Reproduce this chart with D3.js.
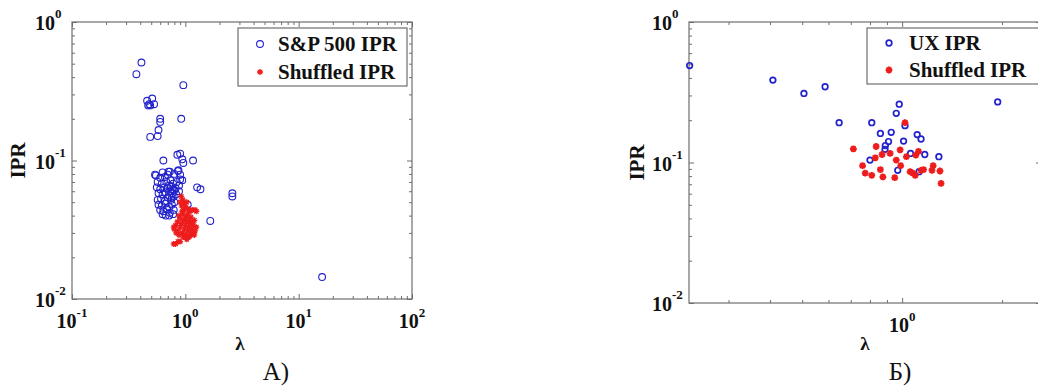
<!DOCTYPE html>
<html><head><meta charset="utf-8">
<script src="https://cdn.jsdelivr.net/npm/d3@7"></script>
<style>html,body{margin:0;padding:0;background:#fff;}svg{display:block;}</style>
</head><body>
<script>
// ---------- DATA ----------
const sp500IPR = [
  [0.37,0.42],[0.41,0.51],[0.96,0.35],
  [0.46,0.27],[0.48,0.255],[0.49,0.25],[0.51,0.28],[0.53,0.255],[0.47,0.25],
  [0.60,0.20],[0.60,0.19],[0.92,0.20],
  [0.58,0.166],[0.57,0.15],[0.49,0.148],
  [0.64,0.10],[0.85,0.11],[0.90,0.112],[0.94,0.102],[0.96,0.096],[1.17,0.10],
  [0.54,0.079],[0.71,0.083],[0.87,0.085],[0.90,0.079],[0.94,0.072],
  [1.27,0.064],[1.36,0.062],[2.6,0.058],[2.6,0.055],[1.66,0.0366],[16.1,0.0144],
  [0.55,0.078],[0.60,0.075],[0.63,0.082],[0.66,0.076],[0.70,0.079],[0.73,0.083],[0.80,0.080],[0.86,0.084],[0.90,0.073],
  [0.57,0.070],[0.62,0.068],[0.68,0.070],[0.74,0.072],[0.78,0.068],[0.84,0.070],
  [0.56,0.064],[0.60,0.062],[0.65,0.064],[0.70,0.063],[0.75,0.065],[0.80,0.061],[0.88,0.066],
  [0.58,0.058],[0.63,0.057],[0.67,0.059],[0.72,0.056],[0.77,0.058],[0.83,0.057],[0.88,0.060],
  [0.57,0.052],[0.61,0.053],[0.66,0.051],[0.70,0.054],[0.75,0.052],[0.80,0.050],
  [0.58,0.048],[0.62,0.047],[0.67,0.049],[0.72,0.046],[0.76,0.048],
  [0.60,0.044],[0.64,0.043],[0.69,0.045],[0.73,0.042],[0.79,0.044],
  [0.63,0.041],[0.67,0.040],[0.72,0.040],[0.78,0.041],[1.05,0.048],
  [0.74,0.060],[0.77,0.062],[0.72,0.066],[0.79,0.055],[0.82,0.063],[0.76,0.054]
];
const shuffledA = [
  [0.92,0.055],[0.95,0.052],[0.90,0.050],[0.98,0.049],[0.93,0.047],[1.00,0.046],[1.05,0.045],[1.15,0.044],[1.22,0.044],[1.25,0.043],[1.10,0.043],
  [0.82,0.034],[0.80,0.032],[0.85,0.036],[0.88,0.040],[0.90,0.038],[0.92,0.035],[0.95,0.041],[0.97,0.037],[1.00,0.039],[1.02,0.036],[1.05,0.041],
  [1.08,0.038],[1.10,0.035],[1.12,0.039],[1.15,0.036],[1.18,0.034],[1.20,0.037],[0.86,0.031],[0.90,0.033],[0.94,0.030],[0.98,0.032],[1.01,0.029],
  [1.04,0.031],[1.07,0.033],[1.11,0.030],[1.14,0.032],[1.17,0.030],[1.22,0.031],[1.25,0.033],[1.00,0.034],[0.96,0.028],[1.03,0.027],[1.08,0.028],
  [1.13,0.029],[1.20,0.029],[0.88,0.029],[0.83,0.030],[0.79,0.033],[1.06,0.036],[0.94,0.043],[0.98,0.044],[1.03,0.050],
  [0.79,0.025],[0.82,0.025],[0.86,0.026],[0.90,0.026]
];
const uxIPR = [
  [0.229,0.49],[0.408,0.386],[0.506,0.31],[0.586,0.346],[0.646,0.192],[0.81,0.192],[0.86,0.161],[0.927,0.164],
  [0.98,0.26],[0.96,0.224],[1.02,0.183],[1.01,0.142],[1.11,0.158],[1.14,0.147],[0.91,0.141],[0.89,0.132],[0.888,0.124],
  [0.80,0.104],[1.06,0.116],[1.17,0.114],[1.29,0.11],[0.97,0.088],[1.125,0.086],[1.94,0.27]
];
const shuffledB = [
  [0.713,0.125],[0.835,0.13],[1.02,0.192],[0.76,0.095],[0.774,0.084],[0.81,0.081],[0.83,0.108],[0.87,0.114],[0.92,0.116],
  [0.86,0.089],[0.875,0.079],[0.95,0.078],[0.96,0.104],[0.986,0.123],[0.99,0.095],[1.03,0.11],[1.10,0.113],[1.12,0.12],
  [1.057,0.086],[1.077,0.084],[1.14,0.088],[1.16,0.089],[1.24,0.095],[1.23,0.088],[1.30,0.087],[1.31,0.071],[1.095,0.081]
];
const yTickLabels = [{v:1, sup:"0"},{v:0.1, sup:"-1"},{v:0.01, sup:"-2"}];
const xTickLabelsA = [{v:0.1, sup:"-1"},{v:1, sup:"0"},{v:10, sup:"1"},{v:100, sup:"2"}];
const xTickLabelsB = [{v:1, sup:"0"}];
const legendA = ["S&P 500 IPR","Shuffled IPR"];
const legendB = ["UX IPR","Shuffled IPR"];

// ---------- DRAW ----------
const W = 1038, H = 391;
const serif = "'Liberation Serif','Times New Roman',serif";
const frameColor = "#6e6e6e";
const blue = "#2222cc", red = "#ee1c1c";
const svg = d3.select("body").append("svg").attr("width", W).attr("height", H);

function starPath(s){ const d = s*0.72;
  return `M${-s},0L${s},0M0,${-s}L0,${s}M${-d},${-d}L${d},${d}M${-d},${d}L${d},${-d}`; }

function logTicks(domain){
  const major = [], minor = [];
  const lo = Math.floor(Math.log10(domain[0])), hi = Math.ceil(Math.log10(domain[1]));
  for (let e = lo; e <= hi; e++){
    const b = Math.pow(10, e);
    if (b >= domain[0]*0.9999 && b <= domain[1]*1.0001) major.push(b);
    for (let k = 2; k <= 9; k++){ const v = k*b; if (v >= domain[0] && v <= domain[1]) minor.push(v); }
  }
  return {major, minor};
}

function panel(cfg){
  const x = d3.scaleLog().domain(cfg.xd).range([cfg.x0, cfg.x1]);
  const y = d3.scaleLog().domain(cfg.yd).range([cfg.y1, cfg.y0]);
  const g = svg.append("g");
  g.append("rect").attr("x", cfg.x0).attr("y", cfg.y0)
    .attr("width", cfg.x1-cfg.x0).attr("height", cfg.y1-cfg.y0)
    .attr("fill", "#fff").attr("stroke", frameColor).attr("stroke-width", 1.2);
  const xt = logTicks(cfg.xd), yt = logTicks(cfg.yd);
  const mk = (axisFn, scale, vals, size, tr) => {
    const a = g.append("g").attr("transform", tr)
      .call(axisFn(scale).tickValues(vals).tickSize(-size).tickFormat(""));
    a.select(".domain").remove();
    a.selectAll("line").attr("stroke", frameColor).attr("stroke-width", 1);
  };
  [[xt.major,5],[xt.minor,3]].forEach(([v,s]) => {
    mk(d3.axisBottom, x, v, s, `translate(0,${cfg.y1})`);
    mk(d3.axisTop, x, v, s, `translate(0,${cfg.y0})`);
  });
  [[yt.major,5],[yt.minor,3]].forEach(([v,s]) => {
    mk(d3.axisLeft, y, v, s, `translate(${cfg.x0},0)`);
    mk(d3.axisRight, y, v, s, `translate(${cfg.x1},0)`);
  });
  // y tick labels
  yTickLabels.forEach(t => {
    const tx = g.append("text").attr("x", cfg.x0-37).attr("y", y(t.v)+8)
      .attr("font-family", serif).attr("font-weight", "bold").attr("font-size", 20).attr("fill", "#111");
    tx.append("tspan").text("10");
    tx.append("tspan").attr("dy", -12).attr("font-size", 13).text(t.sup);
  });
  cfg.xLabels.forEach(t => {
    const tx = g.append("text").attr("x", x(t.v)).attr("y", cfg.y1+29).attr("text-anchor", "middle")
      .attr("font-family", serif).attr("font-weight", "bold").attr("font-size", 20).attr("fill", "#111");
    tx.append("tspan").text("10");
    tx.append("tspan").attr("dy", -11).attr("font-size", 13).text(t.sup);
  });
  // axis titles
  g.append("text").attr("transform", `translate(${cfg.ylabX},${(cfg.y0+cfg.y1)/2}) rotate(-90)`)
    .attr("text-anchor", "middle").attr("dy", "0.35em")
    .attr("font-family", serif).attr("font-weight", "bold").attr("font-size", 21).attr("fill", "#111").text("IPR");
  g.append("text").attr("x", cfg.lamX).attr("y", 350).attr("text-anchor", "middle")
    .attr("font-family", serif).attr("font-weight", "bold").attr("font-size", 19).attr("fill", "#111").text("λ");
  g.append("text").attr("x", cfg.capX).attr("y", 380).attr("text-anchor", "middle")
    .attr("font-family", serif).attr("font-size", 25).attr("fill", "#111").text(cfg.caption);
  // points
  const clipId = "clip" + cfg.id;
  svg.append("clipPath").attr("id", clipId).append("rect")
    .attr("x", cfg.x0-6).attr("y", cfg.y0-6).attr("width", cfg.x1-cfg.x0+12).attr("height", cfg.y1-cfg.y0+12);
  const pg = g.append("g").attr("clip-path", `url(#${clipId})`);
  pg.selectAll("circle.b").data(cfg.blue).join("circle").attr("class", "b")
    .attr("cx", d => x(d[0])).attr("cy", d => y(d[1])).attr("r", cfg.r)
    .attr("fill", "none").attr("stroke", blue).attr("stroke-width", cfg.bw);
  pg.selectAll("path.r").data(cfg.red).join("path").attr("class", "r")
    .attr("transform", d => `translate(${x(d[0])},${y(d[1])})`)
    .attr("d", starPath(cfg.s)).attr("fill", "none").attr("stroke", red).attr("stroke-width", cfg.rw);
  // legend
  const L = cfg.leg;
  g.append("rect").attr("x", L.x).attr("y", L.y).attr("width", L.w).attr("height", L.h)
    .attr("fill", "#fff").attr("stroke", frameColor).attr("stroke-width", 1.2);
  cfg.legText.forEach((t, i) => {
    const ly = L.rows[i];
    if (i === 0) g.append("circle").attr("cx", L.mx).attr("cy", ly-7).attr("r", cfg.r)
      .attr("fill", "none").attr("stroke", blue).attr("stroke-width", cfg.bw);
    else g.append("path").attr("transform", `translate(${L.mx},${ly-7})`).attr("d", starPath(cfg.s))
      .attr("fill", "none").attr("stroke", red).attr("stroke-width", cfg.rw);
    g.append("text").attr("x", L.tx).attr("y", ly).attr("font-family", serif).attr("font-weight", "bold")
      .attr("font-size", 21).attr("fill", "#111").text(t);
  });
}

panel({id:"A", x0:72, x1:412, y0:22, y1:299, xd:[0.1,100], yd:[0.01,1], xLabels:xTickLabelsA,
  ylabX:18, lamX:240, capX:276, caption:"A)", blue:sp500IPR, red:shuffledA, r:3.4, bw:1.1, s:3, rw:1.3,
  legText:legendA, leg:{x:238, y:28, w:169, h:58, mx:260, tx:278, rows:[51,79]}});
panel({id:"B", x0:689, x1:1041, y0:22, y1:303, xd:[0.228,2.62], yd:[0.01,1], xLabels:xTickLabelsB,
  ylabX:637, lamX:865, capX:900, caption:"Б)", blue:uxIPR, red:shuffledB, r:2.8, bw:1.7, s:3.4, rw:2,
  legText:legendB, leg:{x:867, y:28, w:180, h:56, mx:889, tx:909, rows:[50,77]}});
</script>
</body></html>
